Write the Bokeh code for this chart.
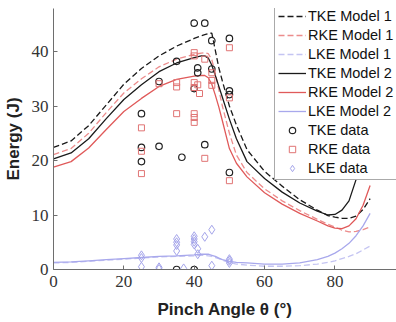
from bokeh.plotting import figure
from bokeh.models import Range1d, FixedTicker, Legend, LegendItem
from bokeh.embed import file_html
from bokeh.resources import INLINE

# ---- model curves (pinch angle in degrees, energy in J) ----
model_x = [0, 5, 10, 15, 20, 25, 30, 35, 40, 42, 43, 44, 45, 46, 47, 48, 50, 52, 55,
           60, 65, 70, 75, 78, 80, 82, 84, 86, 88, 90]

tke_model1 = [22.4, 23.6, 26.4, 30.2, 34.0, 36.9, 39.2, 41.0, 42.4, 42.9, 43.1, 43.3, 43.4,
              40.2, 37.0, 34.6, 30.0, 26.5, 22.0, 18.0, 15.3, 12.8, 10.9, 9.9, 9.6, 9.4,
              9.4, 9.8, 11.0, 13.0]
rke_model1 = [21.1, 22.2, 25.0, 28.8, 32.4, 35.0, 37.2, 38.6, 39.5, 39.7, 39.8, 39.6, 38.5,
              36.0, 33.0, 30.0, 25.0, 21.0, 17.8, 14.8, 12.6, 10.8, 9.2, 8.3, 7.8, 7.2,
              6.9, 7.0, 7.3, 7.8]
lke_model1 = [1.2, 1.3, 1.5, 1.7, 1.9, 2.1, 2.3, 2.4, 2.5, 2.6, 2.6, 2.5, 2.4,
              2.2, 2.0, 1.7, 1.3, 1.0, 0.8, 0.6, 0.6, 0.7, 1.0, 1.3, 1.6, 2.0,
              2.4, 2.9, 3.6, 4.3]
tke_model2 = [20.3, 21.4, 24.0, 27.7, 31.2, 33.9, 36.3, 37.9, 38.9, 39.2, 39.2, 38.8, 37.5,
              35.6, 33.6, 31.6, 27.6, 24.0, 19.8, 16.7, 14.2, 12.2, 10.7, 10.0, 10.1, 10.9,
              12.6, 16.5, 22.5, 30.0]
rke_model2 = [18.8, 19.8, 22.3, 25.7, 29.0, 31.4, 33.6, 34.9, 35.5, 35.6, 35.6, 35.2, 34.0,
              32.0, 29.8, 27.3, 22.2, 19.5, 17.0, 14.1, 12.0, 10.3, 8.9, 8.0, 7.6, 7.5,
              8.0, 9.3, 11.8, 15.4]
lke_model2 = [1.3, 1.4, 1.6, 1.8, 2.0, 2.2, 2.4, 2.5, 2.7, 2.8, 2.8, 2.8, 2.6,
              2.4, 2.1, 1.8, 1.5, 1.3, 1.2, 1.0, 1.0, 1.2, 1.8, 2.4, 3.0, 3.8,
              4.8, 6.2, 8.0, 10.3]

# ---- measured data ----
tke_data_x = [25, 25, 25, 30, 30, 35, 36.5, 35, 40, 40, 43, 40, 41, 41, 43, 45, 45,
              50, 50, 50, 50]
tke_data_y = [28.6, 22.4, 19.8, 34.5, 22.6, 38.2, 20.6, 0.0, 0.0, 45.2, 45.2, 33.2, 37.0,
              36.1, 22.9, 42.0, 36.8, 42.4, 32.8, 32.1, 17.8]

rke_data_x = [25, 25, 25, 30, 35, 35, 35, 40, 40, 40, 40, 41, 41.5, 40, 40, 40, 43, 43,
              45, 45, 45, 50, 50, 50]
rke_data_y = [26.0, 21.7, 17.6, 34.1, 34.3, 33.5, 28.6, 39.8, 39.2, 34.3, 33.4, 33.9, 32.3,
              28.6, 27.9, 27.0, 38.6, 20.4, 36.1, 34.7, 33.8, 40.7, 31.5, 16.3]

lke_data_x = [25, 25, 25, 30, 30, 35, 35, 35, 35, 37, 40, 40, 40, 40, 41, 41, 43, 45, 45,
              50, 50, 50]
lke_data_y = [2.6, 2.1, 0.5, 0.4, 0.1, 5.6, 5.0, 4.5, 3.4, 0.2, 6.1, 5.6, 5.1, 4.6, 3.8,
              2.8, 6.0, 7.3, 0.7, 1.9, 1.6, 1.2]

x_ticks = [0, 20, 40, 60, 80]
y_ticks = [0, 10, 20, 30, 40]

TKE_COL = "#1a1a1a"
RKE_COL = "#e05a5a"
RKE_DASH_COL = "#ec8c8c"
LKE_COL = "#a8a8ec"
LKE_DASH_COL = "#c4c4f2"

p = figure(width=396, height=322, output_backend="svg", toolbar_location=None,
           x_range=Range1d(0, 97.5), y_range=Range1d(0, 47.9),
           min_border_left=51, min_border_right=0, min_border_top=8,
           min_border_bottom=53)
p.outline_line_color = None
p.grid.visible = False
p.background_fill_color = "white"
p.border_fill_color = "white"

for ax in (p.xaxis[0], p.yaxis[0]):
    ax.axis_line_color = "#6e6e6e"
    ax.major_tick_line_color = "#6e6e6e"
    ax.major_tick_in = 4
    ax.major_tick_out = 0
    ax.minor_tick_line_color = None
    ax.major_label_text_font = "Liberation Serif"
    ax.major_label_text_font_size = "17px"
    ax.major_label_text_color = "#333333"
    ax.axis_label_text_font = "Liberation Sans"
    ax.axis_label_text_font_style = "bold"
    ax.axis_label_text_font_size = "17px"
    ax.axis_label_text_color = "#222222"

p.xaxis.ticker = FixedTicker(ticks=x_ticks)
p.yaxis.ticker = FixedTicker(ticks=y_ticks)
p.xaxis.axis_label = "Pinch Angle θ (°)"
p.yaxis.axis_label = "Energy (J)"
p.xaxis.major_label_standoff = 6
p.yaxis.major_label_standoff = 5
p.xaxis.axis_label_standoff = 10
p.yaxis.axis_label_standoff = 6

lw = 1.3
r_tke1 = p.line(model_x, tke_model1, line_color=TKE_COL, line_width=lw, line_dash="6 3")
r_rke1 = p.line(model_x, rke_model1, line_color=RKE_DASH_COL, line_width=lw, line_dash="6 3")
r_lke1 = p.line(model_x, lke_model1, line_color=LKE_DASH_COL, line_width=lw, line_dash="6 3")
r_tke2 = p.line(model_x, tke_model2, line_color=TKE_COL, line_width=lw)
r_rke2 = p.line(model_x, rke_model2, line_color=RKE_COL, line_width=lw)
r_lke2 = p.line(model_x, lke_model2, line_color=LKE_COL, line_width=lw)

r_tked = p.scatter(tke_data_x, tke_data_y, marker="circle", size=6.5, fill_color=None,
                   line_color="#222222", line_width=1.2)
r_rked = p.scatter(rke_data_x, rke_data_y, marker="square", size=6, fill_color=None,
                   line_color="#e07474", line_width=1.0)
r_lked = p.scatter(lke_data_x, lke_data_y, marker="diamond", size=9, fill_color=None,
                   line_color="#a4a4ea", line_width=1.0)

legend = Legend(items=[
    LegendItem(label="TKE Model 1", renderers=[r_tke1]),
    LegendItem(label="RKE Model 1", renderers=[r_rke1]),
    LegendItem(label="LKE Model 1", renderers=[r_lke1]),
    LegendItem(label="TKE Model 2", renderers=[r_tke2]),
    LegendItem(label="RKE Model 2", renderers=[r_rke2]),
    LegendItem(label="LKE Model 2", renderers=[r_lke2]),
    LegendItem(label="TKE data", renderers=[r_tked]),
    LegendItem(label="RKE data", renderers=[r_rked]),
    LegendItem(label="LKE data", renderers=[r_lked]),
], location=(221, 89))
legend.label_text_font = "Liberation Sans"
legend.label_text_font_size = "14.5px"
legend.label_text_color = "#111111"
legend.label_height = 16
legend.glyph_height = 16
legend.glyph_width = 28
legend.label_standoff = 2
legend.spacing = 3
legend.padding = 3
legend.margin = 0
legend.border_line_color = "#555555"
legend.border_line_width = 1
legend.background_fill_alpha = 1.0
p.add_layout(legend, "center")

open("out.html", "w").write(file_html(p, INLINE))
